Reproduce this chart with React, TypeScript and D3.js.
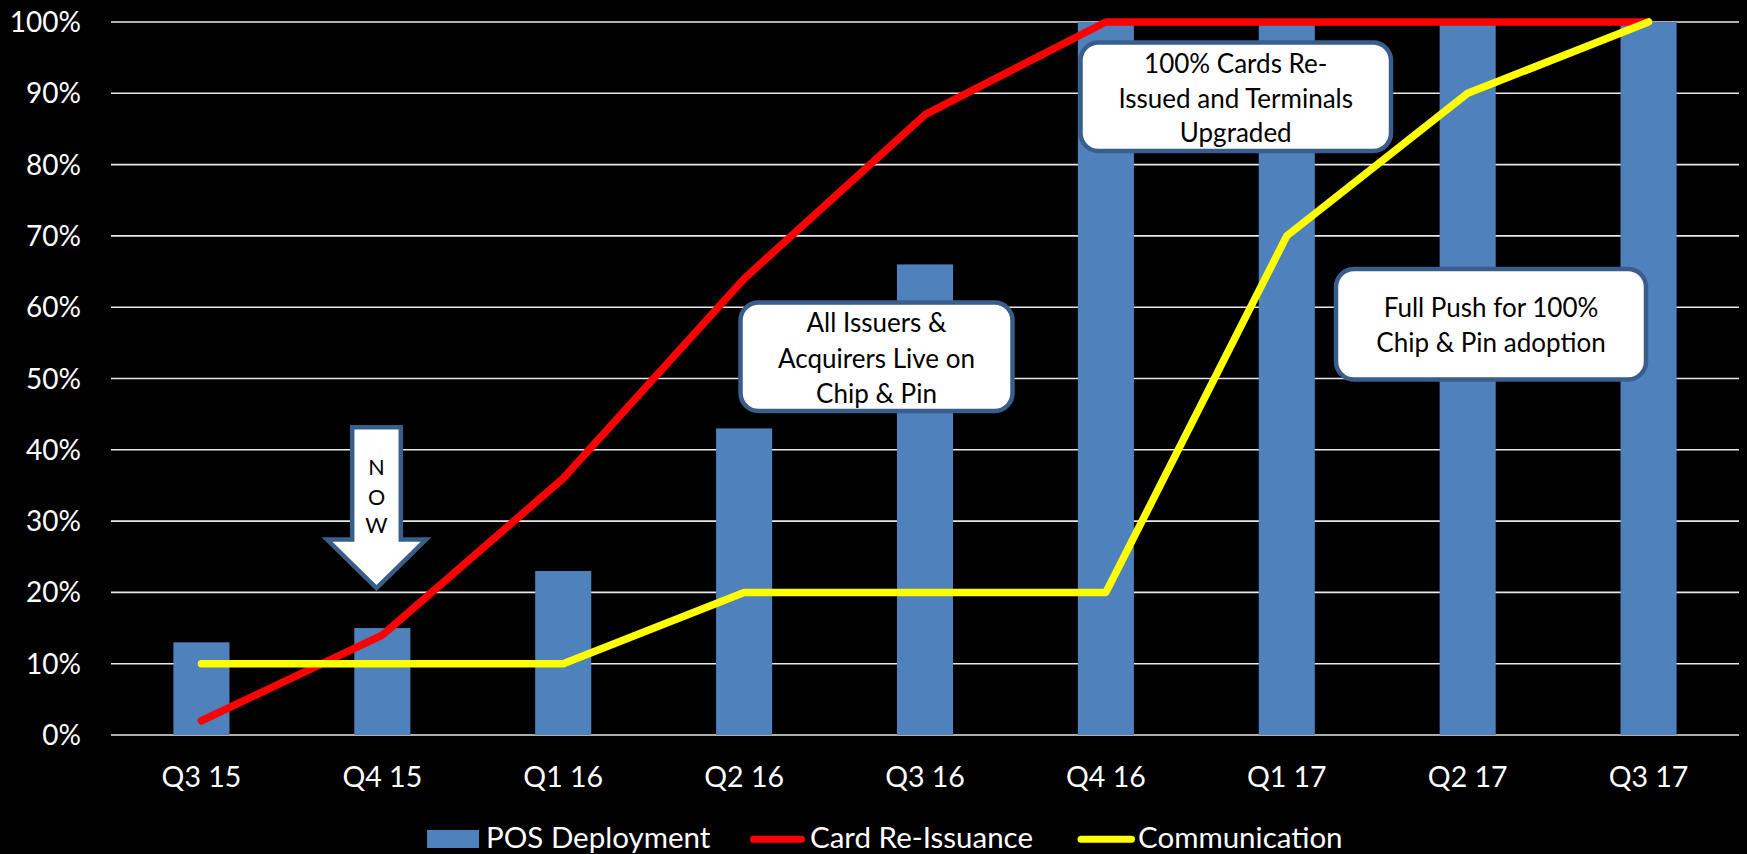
import React from "react";
import * as d3 from "d3";

const categories = ["Q3 15", "Q4 15", "Q1 16", "Q2 16", "Q3 16", "Q4 16", "Q1 17", "Q2 17", "Q3 17"];
const posDeployment = [0.13, 0.15, 0.23, 0.43, 0.66, 1.0, 1.0, 1.0, 1.0];
const cardReissuance = [0.02, 0.14, 0.36, 0.64, 0.87, 1.0, 1.0, 1.0, 1.0];
const communication = [0.1, 0.1, 0.1, 0.2, 0.2, 0.2, 0.7, 0.9, 1.0];
const yTicks = [0, 0.1, 0.2, 0.3, 0.4, 0.5, 0.6, 0.7, 0.8, 0.9, 1.0];

const annotationTexts = [
  ["All Issuers &", "Acquirers Live on", "Chip & Pin"],
  ["100% Cards Re-", "Issued and Terminals", "Upgraded"],
  ["Full Push for 100%", "Chip & Pin adoption"],
];

// layout (pixels)
const W = 1747;
const H = 854;
const plotLeft = 111;
const plotRight = 1739;
const plotTop = 22;
const plotBottom = 735;
const boxLayout = [
  { x: 740.5, y: 302.5, w: 272, h: 108.5, baselines: [331.5, 367.5, 403] },
  { x: 1080.5, y: 42.5, w: 310.5, h: 108.5, baselines: [73, 108, 142] },
  { x: 1336, y: 269, w: 310, h: 110.5, baselines: [316.5, 351.5] },
];

const FONT = "Lato, 'Open Sans', sans-serif";
const BLUE = "#4F81BD";
const BORDER = "#3A5E8C";

export default function App() {
  const x = d3
    .scaleBand<string>()
    .domain(categories)
    .range([plotLeft, plotRight])
    .paddingInner(0.69)
    .paddingOuter(0.345);
  const y = d3.scaleLinear().domain([0, 1]).range([plotBottom, plotTop]);
  const cx = (c: string) => (x(c) as number) + x.bandwidth() / 2;

  const line = d3
    .line<number>()
    .x((_, i) => cx(categories[i]))
    .y((d) => y(d));

  const pctFmt = d3.format(".0%");

  const nowX = 376.5;

  return (
    <div style={{ position: "absolute", left: 0, top: 0 }}>
      <svg width={W} height={H} style={{ display: "block", background: "#000" }} fontFamily={FONT}>
        <rect x={0} y={0} width={W} height={H} fill="#000" />
        {/* gridlines */}
        {yTicks.map((t) => (
          <line key={t} x1={plotLeft} x2={plotRight} y1={y(t)} y2={y(t)} stroke="#e8e8e8" strokeWidth={1.6} />
        ))}
        {/* y labels */}
        {yTicks.map((t) => (
          <text key={"l" + t} x={81} y={y(t) + 10} textAnchor="end" fill="#fff" fontSize={28}>
            {pctFmt(t)}
          </text>
        ))}
        {/* x labels */}
        {categories.map((c) => (
          <text key={c} x={cx(c)} y={787} textAnchor="middle" fill="#fff" fontSize={28.5}>
            {c}
          </text>
        ))}
        {/* bars */}
        {categories.map((c, i) => (
          <rect
            key={"b" + c}
            x={x(c)}
            y={y(posDeployment[i])}
            width={x.bandwidth()}
            height={y(0) - y(posDeployment[i])}
            fill={BLUE}
          />
        ))}
        {/* lines */}
        <path d={line(cardReissuance) || ""} fill="none" stroke="#FF0000" strokeWidth={7.5} strokeLinecap="round" strokeLinejoin="round" />
        <path d={line(communication) || ""} fill="none" stroke="#FFFF00" strokeWidth={7.5} strokeLinecap="round" strokeLinejoin="round" />

        {/* NOW arrow */}
        <path
          d={`M ${nowX - 24.3} 427.3 L ${nowX + 24.3} 427.3 L ${nowX + 24.3} 539.5 L ${nowX + 49.5} 539.5 L ${nowX} 588 L ${nowX - 49.5} 539.5 L ${nowX - 24.3} 539.5 Z`}
          fill="#fff"
          stroke={BORDER}
          strokeWidth={4.5}
          strokeLinejoin="miter"
        />
        {["N", "O", "W"].map((ch, i) => (
          <text key={ch} x={nowX} y={[475, 504.5, 533][i]} textAnchor="middle" fill="#000" fontSize={21.5}>
            {ch}
          </text>
        ))}

        {/* annotation boxes */}
        {annotationTexts.map((lines, k) => {
          const b = boxLayout[k];
          return (
            <g key={"a" + k}>
              <rect x={b.x} y={b.y} width={b.w} height={b.h} rx={18} ry={18} fill="#fff" stroke={BORDER} strokeWidth={4.5} />
              {lines.map((t, j) => (
                <text key={j} x={b.x + b.w / 2} y={b.baselines[j]} textAnchor="middle" fill="#000" fontSize={26}>
                  {t}
                </text>
              ))}
            </g>
          );
        })}

        {/* legend */}
        <rect x={427} y={830} width={52} height={18} fill={BLUE} />
        <text x={486} y={848} fill="#fff" fontSize={29.5}>POS Deployment</text>
        <line x1={753.5} x2={801.5} y1={839.3} y2={839.3} stroke="#FF0000" strokeWidth={7} strokeLinecap="round" />
        <text x={810} y={848} fill="#fff" fontSize={29.5}>Card Re-Issuance</text>
        <line x1={1081} x2={1131.5} y1={839.3} y2={839.3} stroke="#FFFF00" strokeWidth={7} strokeLinecap="round" />
        <text x={1138} y={848} fill="#fff" fontSize={29.5}>Communication</text>
      </svg>
    </div>
  );
}
